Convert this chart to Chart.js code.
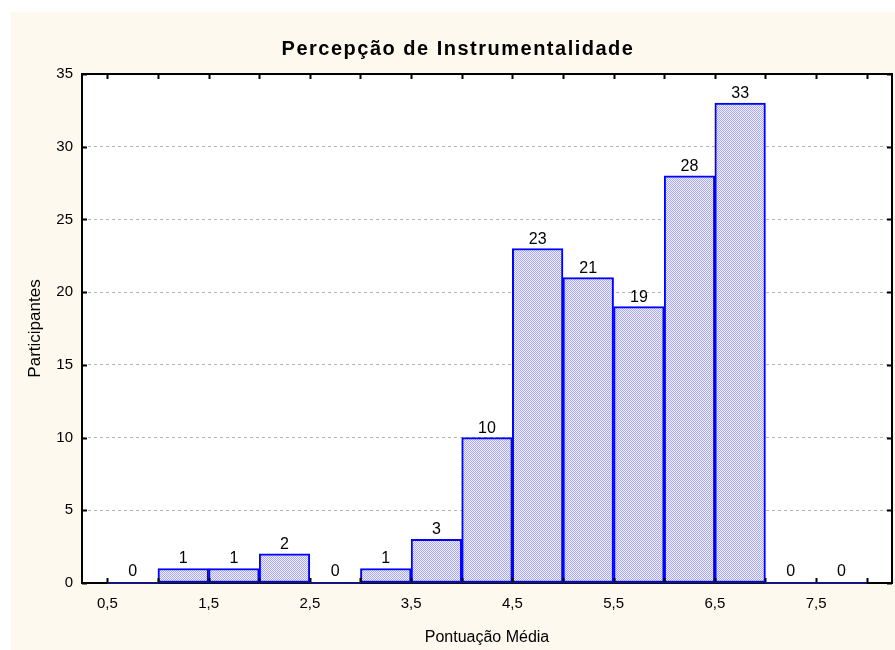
<!DOCTYPE html>
<html>
<head>
<meta charset="utf-8">
<script src="https://cdn.jsdelivr.net/npm/chart.js@4.4.1/dist/chart.umd.min.js"></script>
<style>
    html, body { margin: 0; padding: 0; background: #ffffff; }
    #wrap { position: relative; width: 895px; height: 650px; }
</style>
</head>
<body>
<div id="wrap"><canvas id="grafico" width="895" height="650"></canvas></div>
<script>
// dados do histograma
const titulo = 'Percepção de Instrumentalidade';
const tituloX = 'Pontuação Média';
const tituloY = 'Participantes';
const centrosClasse = [0.75, 1.25, 1.75, 2.25, 2.75, 3.25, 3.75, 4.25, 4.75, 5.25, 5.75, 6.25, 6.75, 7.25, 7.75];
const participantes = [0, 1, 1, 2, 0, 1, 3, 10, 23, 21, 19, 28, 33, 0, 0];
const ticksX = [0.5, 1.5, 2.5, 3.5, 4.5, 5.5, 6.5, 7.5];
const marcasX = [0.5, 1, 1.5, 2, 2.5, 3, 3.5, 4, 4.5, 5, 5.5, 6, 6.5, 7, 7.5, 8];
const ticksY = [0, 5, 10, 15, 20, 25, 30, 35];

const fonte = 'Arial, "Liberation Sans", sans-serif';

// preenchimento pontilhado das barras
function criarPadrao() {
    const c = document.createElement('canvas');
    c.width = 2; c.height = 2;
    const g = c.getContext('2d');
    g.fillStyle = '#f0f0ff'; g.fillRect(0, 0, 2, 2);
    g.fillStyle = '#a8a8f6'; g.fillRect(0, 0, 1, 1); g.fillRect(1, 1, 1, 1);
    return g.createPattern(c, 'repeat');
}

const fundo = {
    id: 'fundo',
    beforeDraw(chart) {
        const { ctx, chartArea: a } = chart;
        ctx.save();
        ctx.fillStyle = '#ffffff';
        ctx.fillRect(0, 0, chart.width, chart.height);
        ctx.fillStyle = '#fdf9ee';
        ctx.fillRect(11, 12, chart.width - 11, chart.height - 12);
        ctx.fillStyle = '#ffffff';
        ctx.fillRect(a.left, a.top, a.right - a.left, a.bottom - a.top);
        ctx.restore();
    }
};

const moldura = {
    id: 'moldura',
    afterDatasetsDraw(chart) {
        const { ctx, chartArea: a, scales: { x, y } } = chart;
        ctx.save();
        ctx.strokeStyle = '#000000';
        ctx.lineWidth = 2;
        ctx.strokeRect(a.left, a.top, a.right - a.left, a.bottom - a.top);

        // marcas internas
        ctx.beginPath();
        marcasX.forEach(v => {
            const px = Math.round(x.getPixelForValue(v)) + 0.5;
            ctx.moveTo(px, a.top); ctx.lineTo(px, a.top + 5);
            ctx.moveTo(px, a.bottom); ctx.lineTo(px, a.bottom - 5);
        });
        ticksY.forEach(v => {
            const py = Math.round(y.getPixelForValue(v)) + 0.5;
            ctx.moveTo(a.left, py); ctx.lineTo(a.left + 5, py);
            ctx.moveTo(a.right, py); ctx.lineTo(a.right - 5, py);
        });
        ctx.stroke();

        // base azul das barras e rótulos de contagem
        const meta = chart.getDatasetMeta(0);
        ctx.strokeStyle = '#14147a';
        ctx.lineWidth = 2;
        ctx.beginPath();
        meta.data.forEach(bar => {
            ctx.moveTo(bar.x - bar.width / 2, bar.base);
            ctx.lineTo(bar.x + bar.width / 2, bar.base);
        });
        ctx.stroke();

        ctx.fillStyle = '#000000';
        ctx.font = '16px ' + fonte;
        ctx.textAlign = 'center';
        ctx.textBaseline = 'alphabetic';
        meta.data.forEach((bar, i) => {
            const v = participantes[i];
            ctx.fillText(String(v), bar.x, bar.y - (v === 0 ? 7 : 5));
        });

        // título
        ctx.font = 'bold 20px ' + fonte;
        if ('letterSpacing' in ctx) ctx.letterSpacing = '1.5px';
        ctx.textBaseline = 'middle';
        ctx.fillText(titulo, 458, 49);
        ctx.restore();
    }
};

new Chart(document.getElementById('grafico'), {
    type: 'bar',
    data: {
        datasets: [{
            label: tituloY,
            data: centrosClasse.map((c, i) => ({ x: c, y: participantes[i] })),
            backgroundColor: criarPadrao(),
            borderColor: '#0000ff',
            borderWidth: 2,
            borderSkipped: false,
            barPercentage: 1,
            categoryPercentage: 1
        }]
    },
    options: {
        responsive: false,
        animation: false,
        layout: { padding: { top: 74, right: 3, left: 0, bottom: 0 } },
        plugins: {
            legend: { display: false },
            title: { display: false },
            tooltip: { enabled: false }
        },
        scales: {
            x: {
                type: 'linear',
                min: 0.25,
                max: 8.25,
                offset: false,
                grid: { display: false, drawTicks: false },
                border: { display: false },
                afterBuildTicks: s => { s.ticks = ticksX.map(v => ({ value: v })); },
                afterFit: s => { s.height = 67; },
                ticks: {
                    padding: 12,
                    maxRotation: 0,
                    color: '#000000',
                    font: { family: fonte, size: 15 },
                    callback: v => v.toFixed(1).replace('.', ',')
                },
                title: {
                    display: true,
                    text: tituloX,
                    color: '#000000',
                    font: { family: fonte, size: 16 },
                    padding: { top: 0, bottom: 3 }
                }
            },
            y: {
                min: 0,
                max: 35,
                grid: {
                    drawTicks: false,
                    color: '#b4b4b4',
                    lineWidth: 1
                },
                border: { display: false, dash: [3, 3] },
                afterBuildTicks: s => { s.ticks = ticksY.map(v => ({ value: v })); },
                afterFit: s => { s.width = 82; },
                ticks: {
                    padding: 9,
                    color: '#000000',
                    font: { family: fonte, size: 15 }
                },
                title: {
                    display: true,
                    text: tituloY,
                    color: '#000000',
                    font: { family: fonte, size: 17 },
                    padding: { top: 25, bottom: 0 }
                }
            }
        }
    },
    plugins: [fundo, moldura]
});
</script>
</body>
</html>
